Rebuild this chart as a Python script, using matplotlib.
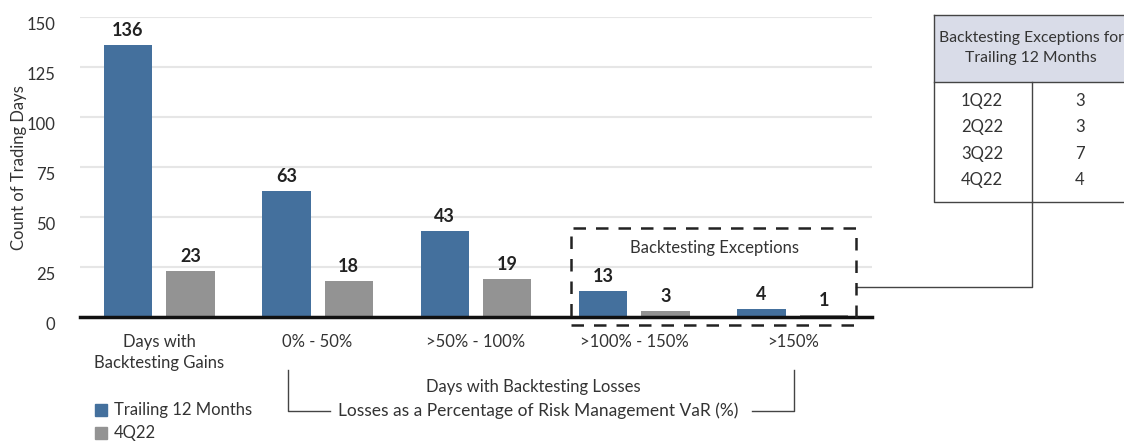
import matplotlib
matplotlib.use("Agg")
import matplotlib.pyplot as plt
from matplotlib.patches import Rectangle
from matplotlib.lines import Line2D

categories = ["Days with\nBacktesting Gains", "0% - 50%", ">50% - 100%", ">100% - 150%", ">150%"]
trailing = [136, 63, 43, 13, 4]
q4 = [23, 18, 19, 3, 1]
series_names = ["Trailing 12 Months", "4Q22"]
table_quarters = ["1Q22", "2Q22", "3Q22", "4Q22"]
table_counts = [3, 3, 7, 4]
yticks = [0, 25, 50, 75, 100, 125, 150]

BLUE = "#44709d"
GRAY = "#939393"
TXT = "#333333"
plt.rcParams['font.family'] = ['Lato', 'DejaVu Sans']

W, H = 1124, 445
fig = plt.figure(figsize=(W / 100, H / 100), dpi=100)

def px(x, y):
    # pixel coords (from top-left) -> figure fraction
    return x / W, 1 - y / H

ax = fig.add_axes([80 / W, 1 - 317 / H, 792 / W, 300 / H])
x = list(range(len(categories)))
off, bw = 0.197, 0.305
ax.bar([i - off for i in x], trailing, bw, color=BLUE, zorder=3)
ax.bar([i + off for i in x], q4, bw, color=GRAY, zorder=3)
for i in x:
    ax.text(i - off, trailing[i] + 3, str(trailing[i]), ha="center", va="bottom",
            fontsize=13, fontweight="bold", color="#222222")
    ax.text(i + off, q4[i] + 3, str(q4[i]), ha="center", va="bottom",
            fontsize=13, fontweight="bold", color="#222222")

ax.set_xlim(-0.5, 4.5)
ax.set_ylim(0, 150)
ax.set_yticks(yticks)
ax.set_yticklabels([str(t) for t in yticks], fontsize=12, color=TXT, va="top")
ax.tick_params(axis="y", length=0, pad=18)
ax.set_xticks(x)
ax.set_xticklabels(categories, fontsize=12, color=TXT, linespacing=1.4)
ax.tick_params(axis="x", length=0, pad=12)
ax.yaxis.grid(True, color="#e6e6e6", linewidth=1.5, zorder=0)
ax.set_axisbelow(True)
for s in ["top", "right", "left"]:
    ax.spines[s].set_visible(False)
ax.spines["bottom"].set_linewidth(2.5)
ax.spines["bottom"].set_color("#111111")
ax.spines["bottom"].set_zorder(4)
fig.text(*px(19, 168), "Count of Trading Days", rotation=90, ha="center", va="center",
         fontsize=12, color=TXT)

# dashed exceptions box
x0, y0 = px(571, 325)
x1, y1 = px(856, 228)
fig.add_artist(Rectangle((x0, y0), x1 - x0, y1 - y0, transform=fig.transFigure,
                         fill=False, edgecolor="#222222", linewidth=1.8,
                         linestyle=(0, (5, 4)), zorder=5))
fig.text(*px(714, 248), "Backtesting Exceptions", ha="center", va="center",
         fontsize=12, color=TXT)

def fline(pts, **kw):
    xs = [px(a, b)[0] for a, b in pts]
    ys = [px(a, b)[1] for a, b in pts]
    fig.add_artist(Line2D(xs, ys, transform=fig.transFigure, color="#444444",
                          linewidth=1.0, **kw))

fline([(856, 287), (1032, 287), (1032, 202)])

# bracket for losses
fline([(288, 370), (288, 411), (330, 411)])
fline([(752, 411), (794, 411), (794, 370)])
fig.text(*px(533, 387), "Days with Backtesting Losses", ha="center", va="center",
         fontsize=12, color=TXT)
fig.text(*px(538, 411), "Losses as a Percentage of Risk Management VaR (%)",
         ha="center", va="center", fontsize=12.5, color=TXT)

# legend
for k, (name, col) in enumerate(zip(series_names, [BLUE, GRAY])):
    yc = 410 + k * 23
    lx, ly = px(95, yc + 6)
    fig.add_artist(Rectangle((lx, ly), 12 / W, 12 / H, transform=fig.transFigure,
                             color=col))
    fig.text(*px(114, yc), name, ha="left", va="center", fontsize=12, color=TXT)

# table
tx0, tx1 = 934, 1124
fig.add_artist(Rectangle(px(tx0, 82), (tx1 - tx0) / W, 67 / H, transform=fig.transFigure,
                         facecolor="#d9dce8", edgecolor="none"))
fline([(tx0, 15), (tx1, 15)])
fline([(tx0, 82), (tx1, 82)])
fline([(tx0, 15), (tx0, 202), (tx1, 202)])
fline([(1032, 82), (1032, 202)])
fig.text(*px(1031, 48), "Backtesting Exceptions for\nTrailing 12 Months", ha="center",
         va="center", fontsize=11.3, color=TXT, linespacing=1.6)
for r, (q, c) in enumerate(zip(table_quarters, table_counts)):
    yy = 101 + r * 26.3
    fig.text(*px(982, yy), q, ha="center", va="center", fontsize=12, color=TXT)
    fig.text(*px(1080, yy), str(c), ha="center", va="center", fontsize=12, color=TXT)

fig.savefig("out.png", dpi=100)
